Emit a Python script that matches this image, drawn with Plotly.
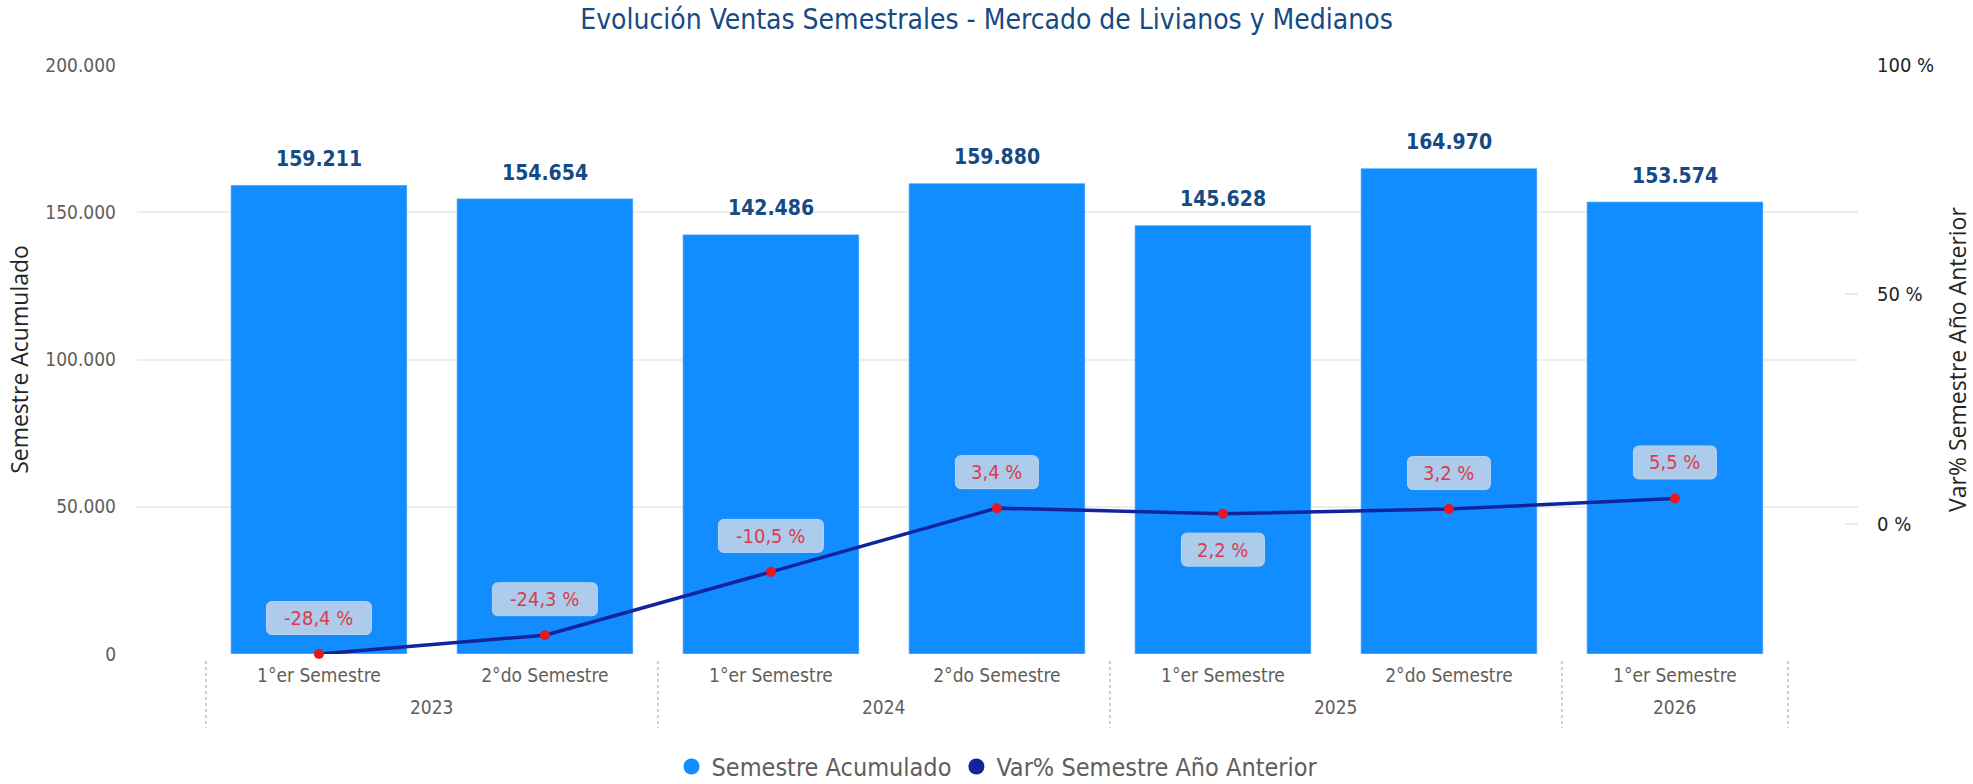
import plotly.graph_objects as go

years = ["2023", "2023", "2024", "2024", "2025", "2025", "2026"]
semesters = ["1°er Semestre", "2°do Semestre", "1°er Semestre", "2°do Semestre",
             "1°er Semestre", "2°do Semestre", "1°er Semestre"]
ventas = [159211, 154654, 142486, 159880, 145628, 164970, 153574]
var_pct = [-28.4, -24.3, -10.5, 3.4, 2.2, 3.2, 5.5]
label_below = [False, False, False, False, True, False, False]

left_ticks = [0, 50000, 100000, 150000, 200000]
right_ticks = [0, 50, 100]
right_ticktext = ["0 %", "50 %", "100 %"]

BAR = "#118DFF"
LINE = "#12239E"
FONT = "DejaVu Sans Condensed, Roboto, sans-serif"
GRAY = "#605E5C"

# unique category keys: one per (year, semester)
cats = [f"{y} {s}" for y, s in zip(years, semesters)]

fig = go.Figure()
fig.add_trace(go.Bar(x=cats, y=ventas, marker_color=BAR, width=0.78,
                     name="Semestre Acumulado", showlegend=False,
                     hoverinfo="skip"))
fig.add_trace(go.Scatter(x=cats, y=var_pct, yaxis="y2", mode="lines+markers",
                         line=dict(color=LINE, width=3.5),
                         marker=dict(color="#E8161E", size=10),
                         cliponaxis=False,
                         name="Var% Semestre Año Anterior", showlegend=False))
# legend entries (circles)
fig.add_trace(go.Scatter(x=[None], y=[None], mode="markers",
                         marker=dict(color=BAR, size=22), name="Semestre Acumulado"))
fig.add_trace(go.Scatter(x=[None], y=[None], mode="markers",
                         marker=dict(color=LINE, size=22), name="Var% Semestre Año Anterior"))


def rounded_box(w, h, cy, r=6):
    x0, x1 = -w / 2, w / 2
    y0, y1 = cy - h / 2, cy + h / 2
    return (f"M {x0 + r},{y0} L {x1 - r},{y0} Q {x1},{y0} {x1},{y0 + r} "
            f"L {x1},{y1 - r} Q {x1},{y1} {x1 - r},{y1} L {x0 + r},{y1} "
            f"Q {x0},{y1} {x0},{y1 - r} L {x0},{y0 + r} Q {x0},{y0} {x0 + r},{y0} Z")


ann = []
shapes = []
for i, v in enumerate(ventas):
    ann.append(dict(x=cats[i], y=v, xref="x", yref="y", text=f"<b>{v:,}</b>".replace(",", "."),
                    showarrow=False, yanchor="bottom", yshift=12,
                    font=dict(family=FONT, size=21, color="#164A85")))
for i, v in enumerate(var_pct):
    txt = f"{v:.1f} %".replace(".", ",")
    dy = -36 if label_below[i] else 36
    w = 11 * len(txt) + 28
    shapes.append(dict(type="path", xref="x", yref="y2", xsizemode="pixel", ysizemode="pixel",
                       xanchor=i, yanchor=v, path=rounded_box(w, 33, dy),
                       fillcolor="#ADCBEB", line=dict(color="#BCD4EE", width=1), layer="above"))
    ann.append(dict(x=cats[i], y=v, xref="x", yref="y2", text=txt, showarrow=False,
                    yshift=dy, font=dict(family=FONT, size=20, color="#DC3B4C")))

# year group labels and dotted dividers (derived from the years list)
groups = []
for i, y in enumerate(years):
    if groups and groups[-1][0] == y:
        groups[-1][2] = i
    else:
        groups.append([y, i, i])
for y, a, b in groups:
    ann.append(dict(x=(a + b) / 2, y=0, xref="x", yref="paper", text=y, showarrow=False,
                    yanchor="middle", yshift=-53, font=dict(family=FONT, size=19, color=GRAY)))
bounds = [groups[0][1] - 0.5] + [b + 0.5 for _, _, b in groups]
for bx in bounds:
    shapes.append(dict(type="line", xref="x", yref="paper", x0=bx, x1=bx, y0=-0.012, y1=-0.125,
                       line=dict(color="#BEBEBE", width=1.5, dash="dot"), layer="above"))

fig.update_layout(
    width=1973, height=784,
    paper_bgcolor="white", plot_bgcolor="white",
    separators=",.",
    margin=dict(l=137, r=115, t=65, b=130),
    title=dict(text="Evolución Ventas Semestrales - Mercado de Livianos y Medianos",
               x=0.5, xanchor="center", y=0.975, yanchor="middle",
               font=dict(family=FONT, size=28, color="#164A85")),
    font=dict(family=FONT, color=GRAY),
    xaxis=dict(type="category", range=[-0.805, 6.81], automargin=False,
               tickvals=cats, ticktext=semesters,
               tickfont=dict(size=19, color=GRAY), ticklabelstandoff=8,
               ticks="", showgrid=False, showline=False, zeroline=False),
    yaxis=dict(range=[0, 200000], tickvals=left_ticks, tickformat=",d", automargin=False,
               gridcolor="#EDEDED", gridwidth=1.5, zeroline=False,
               tickfont=dict(size=19, color=GRAY), ticks="", ticklabelstandoff=20,
               title=dict(text="Semestre Acumulado", standoff=10,
                          font=dict(family="Open Sans, sans-serif", size=23, color="#252423"))),
    yaxis2=dict(overlaying="y", side="right", range=[-28.4, 100], automargin=False,
                tickvals=right_ticks, ticktext=right_ticktext, showgrid=False,
                ticks="inside", ticklen=13, tickcolor="#EAEAEA", tickwidth=1.5,
                zeroline=False, tickfont=dict(size=20, color="#252423"), ticklabelstandoff=18,
                title=dict(text="Var% Semestre Año Anterior", standoff=16,
                           font=dict(family="Open Sans, sans-serif", size=23, color="#252423"))),
    legend=dict(orientation="h", x=0.5, xanchor="center", yref="container", y=0.022,
                yanchor="middle", font=dict(size=25, color=GRAY), itemsizing="trace"),
    annotations=ann,
    shapes=shapes,
    bargap=0.22,
)

fig.write_html("out.html", config={"displayModeBar": False},
               post_script="document.body.style.margin='0';document.body.style.overflow='hidden';")
